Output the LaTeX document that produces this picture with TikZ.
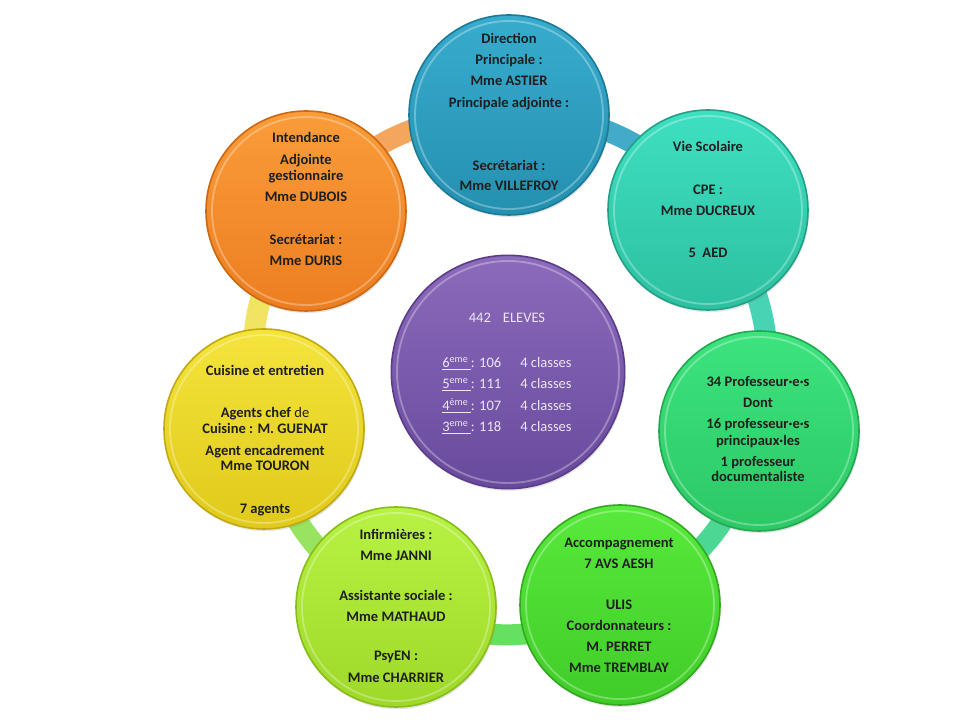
\documentclass[tikz,border=0pt]{standalone}
\usepackage{fontspec}
\setmainfont{Carlito}
\usetikzlibrary{shadows,backgrounds}
\definecolor{bT}{HTML}{38ACCE}\definecolor{bB}{HTML}{2490B0}\definecolor{bR}{HTML}{1B7A96}\definecolor{bL}{HTML}{44AACA}
\definecolor{tT}{HTML}{3EE0C2}\definecolor{tB}{HTML}{2CC0A0}\definecolor{tR}{HTML}{22A085}\definecolor{tL}{HTML}{48D4B4}
\definecolor{pT}{HTML}{3CE47E}\definecolor{pB}{HTML}{2CC865}\definecolor{pR}{HTML}{22A850}\definecolor{pL}{HTML}{4CD894}
\definecolor{aT}{HTML}{58EA3C}\definecolor{aB}{HTML}{40CC28}\definecolor{aR}{HTML}{33A820}\definecolor{aL}{HTML}{66E060}
\definecolor{lT}{HTML}{B8F244}\definecolor{lB}{HTML}{9ED828}\definecolor{lR}{HTML}{88BC18}\definecolor{lL}{HTML}{98E460}
\definecolor{yT}{HTML}{F4E43C}\definecolor{yB}{HTML}{E0CA1A}\definecolor{yR}{HTML}{C0AA10}\definecolor{yL}{HTML}{F0E462}
\definecolor{oT}{HTML}{FA9C3A}\definecolor{oB}{HTML}{EC7E20}\definecolor{oR}{HTML}{CC6810}\definecolor{oL}{HTML}{F4A65C}
\definecolor{vT}{HTML}{8C6ABC}\definecolor{vB}{HTML}{684A9C}\definecolor{vR}{HTML}{5A3C88}
\definecolor{vtxt}{HTML}{ECE6F4}
\begin{document}
\begin{tikzpicture}[x=0.75pt,y=0.75pt,
  bub/.style n args={3}{circle, inner sep=0pt, minimum size=150pt, top color=#1, bottom color=#2, draw=#3, line width=1.2pt,
     drop shadow={opacity=0.2, shadow xshift=0.8pt, shadow yshift=-1.6pt}},
  hl/.style={line width=1.4pt, draw=white, opacity=0.3},
  txt/.style={anchor=base, inner sep=0pt, font=\fontsize{10.9}{13}\selectfont\bfseries, text=black!88},
  ptxt/.style={anchor=base west, inner sep=0pt, font=\fontsize{10.9}{13}\selectfont, text=vtxt},
  link/.style={line width=15.75pt, line cap=butt}]
\useasboundingbox (0,0) rectangle (960,720);

% outer circles
\node[bub={bT}{bB}{bR}] (dir) at (509,605) {};
\node[bub={tT}{tB}{tR}] (vie) at (708,510) {};
\node[bub={pT}{pB}{pR}] (prof) at (759,289) {};
\node[bub={aT}{aB}{aR}] (acc) at (620,115) {};
\node[bub={lT}{lB}{lR}] (inf) at (396,113) {};
\node[bub={yT}{yB}{yR}] (cui) at (264,291) {};
\node[bub={oT}{oB}{oR}] (int) at (306,509) {};
% central circle
\node[circle, inner sep=0pt, minimum size=175pt, top color=vT, bottom color=vB, draw=vR, line width=1.2pt,
      drop shadow={opacity=0.2, shadow xshift=0.8pt, shadow yshift=-1.6pt}] (el) at (508,348) {};

\foreach \n in {dir,vie,prof,acc,inf,cui,int}{\draw[hl] (\n.center) circle[radius=94];}
\draw[hl] (el.center) circle[radius=111];

% background and connectors along the ring
\begin{scope}[on background layer]
\fill[white] (0,0) rectangle (960,720);
\draw[link, draw=bL] (dir.center) to[bend left=26] (vie.center);
\draw[link, draw=tL] (vie.center) to[bend left=26] (prof.center);
\draw[link, draw=pL] (prof.center) to[bend left=26] (acc.center);
\draw[link, draw=aL] (acc.center) to[bend left=26] (inf.center);
\draw[link, draw=lL] (inf.center) to[bend left=26] (cui.center);
\draw[link, draw=yL] (cui.center) to[bend left=26] (int.center);
\draw[link, draw=oL] (int.center) to[bend left=26] (dir.center);
\end{scope}

% Direction
\node[txt] (d1) at (509,676.5) {Direction};
\node[txt] (d2) at (509,655.5) {Principale :};
\node[txt] (d3) at (509,634.5) {Mme ASTIER};
\node[txt] (d4) at (509,612.5) {Principale adjointe :};
\node[txt] (d5) at (509,549.5) {Secrétariat :};
\node[txt] (d6) at (509,529.5) {Mme VILLEFROY};
% Vie scolaire
\node[txt] (v1) at (708,568.5) {Vie Scolaire};
\node[txt] (v2) at (708,525.5) {CPE :};
\node[txt] (v3) at (708,504.5) {Mme DUCREUX};
\node[txt] (v4) at (708,462.5) {5\ \ AED};
% Professeurs
\node[txt] (p1) at (758,333.5) {34 Professeur·e·s};
\node[txt] (p2) at (758,312.5) {Dont};
\node[txt] (p3) at (758,291.5) {16 professeur·e·s};
\node[txt] (p4) at (758,274.5) {principaux·les};
\node[txt] (p5) at (758,253.5) {1 professeur};
\node[txt] (p6) at (758,238.5) {documentaliste};
% Accompagnement
\node[txt] (a1) at (619,172.5) {Accompagnement};
\node[txt] (a2) at (619,151.5) {7 AVS AESH};
\node[txt] (a3) at (619,110.5) {ULIS};
\node[txt] (a4) at (619,89.5) {Coordonnateurs :};
\node[txt] (a5) at (619,68.5) {M. PERRET};
\node[txt] (a6) at (619,47.5) {Mme TREMBLAY};
% Infirmieres
\node[txt] (i1) at (396,180.5) {Infirmières :};
\node[txt] (i2) at (396,159.5) {Mme JANNI};
\node[txt] (i3) at (396,119.5) {Assistante sociale :};
\node[txt] (i4) at (396,98.5) {Mme MATHAUD};
\node[txt] (i5) at (396,59.5) {PsyEN :};
\node[txt] (i6) at (396,37.5) {Mme CHARRIER};
% Cuisine
\node[txt] (c1) at (265,344.5) {Cuisine et entretien};
\node[txt] (c2) at (265,302.5) {Agents chef \mdseries de};
\node[txt] (c3) at (265,286.5) {Cuisine : M. GUENAT};
\node[txt] (c4) at (265,264.5) {Agent encadrement};
\node[txt] (c5) at (265,249.5) {Mme TOURON};
\node[txt] (c6) at (265,206.5) {7 agents};
% Intendance
\node[txt] (n1) at (306,577.5) {Intendance};
\node[txt] (n2) at (306,555.5) {Adjointe};
\node[txt] (n3) at (306,539.5) {gestionnaire};
\node[txt] (n4) at (306,518.5) {Mme DUBOIS};
\node[txt] (n5) at (306,475.5) {Secrétariat :};
\node[txt] (n6) at (306,454.5) {Mme DURIS};
% Eleves
\node[txt, font=\fontsize{10.9}{13}\selectfont, text=vtxt] (e0) at (507,397.5) {442\hspace{0.6em} ELEVES};
\node[ptxt] (e1) at (442,352.5) {\underline{6\textsuperscript{eme}\,}: 106};
\node[ptxt] (e2) at (442,331.5) {\underline{5\textsuperscript{eme}\,}: 111};
\node[ptxt] (e3) at (442,309.5) {\underline{4\textsuperscript{ème}\,}: 107};
\node[ptxt] (e4) at (442,288.5) {\underline{3\textsuperscript{eme}\,}: 118};
\node[ptxt] (f1) at (520,352.5) {4 classes};
\node[ptxt] (f2) at (520,331.5) {4 classes};
\node[ptxt] (f3) at (520,309.5) {4 classes};
\node[ptxt] (f4) at (520,288.5) {4 classes};
\end{tikzpicture}
\end{document}
